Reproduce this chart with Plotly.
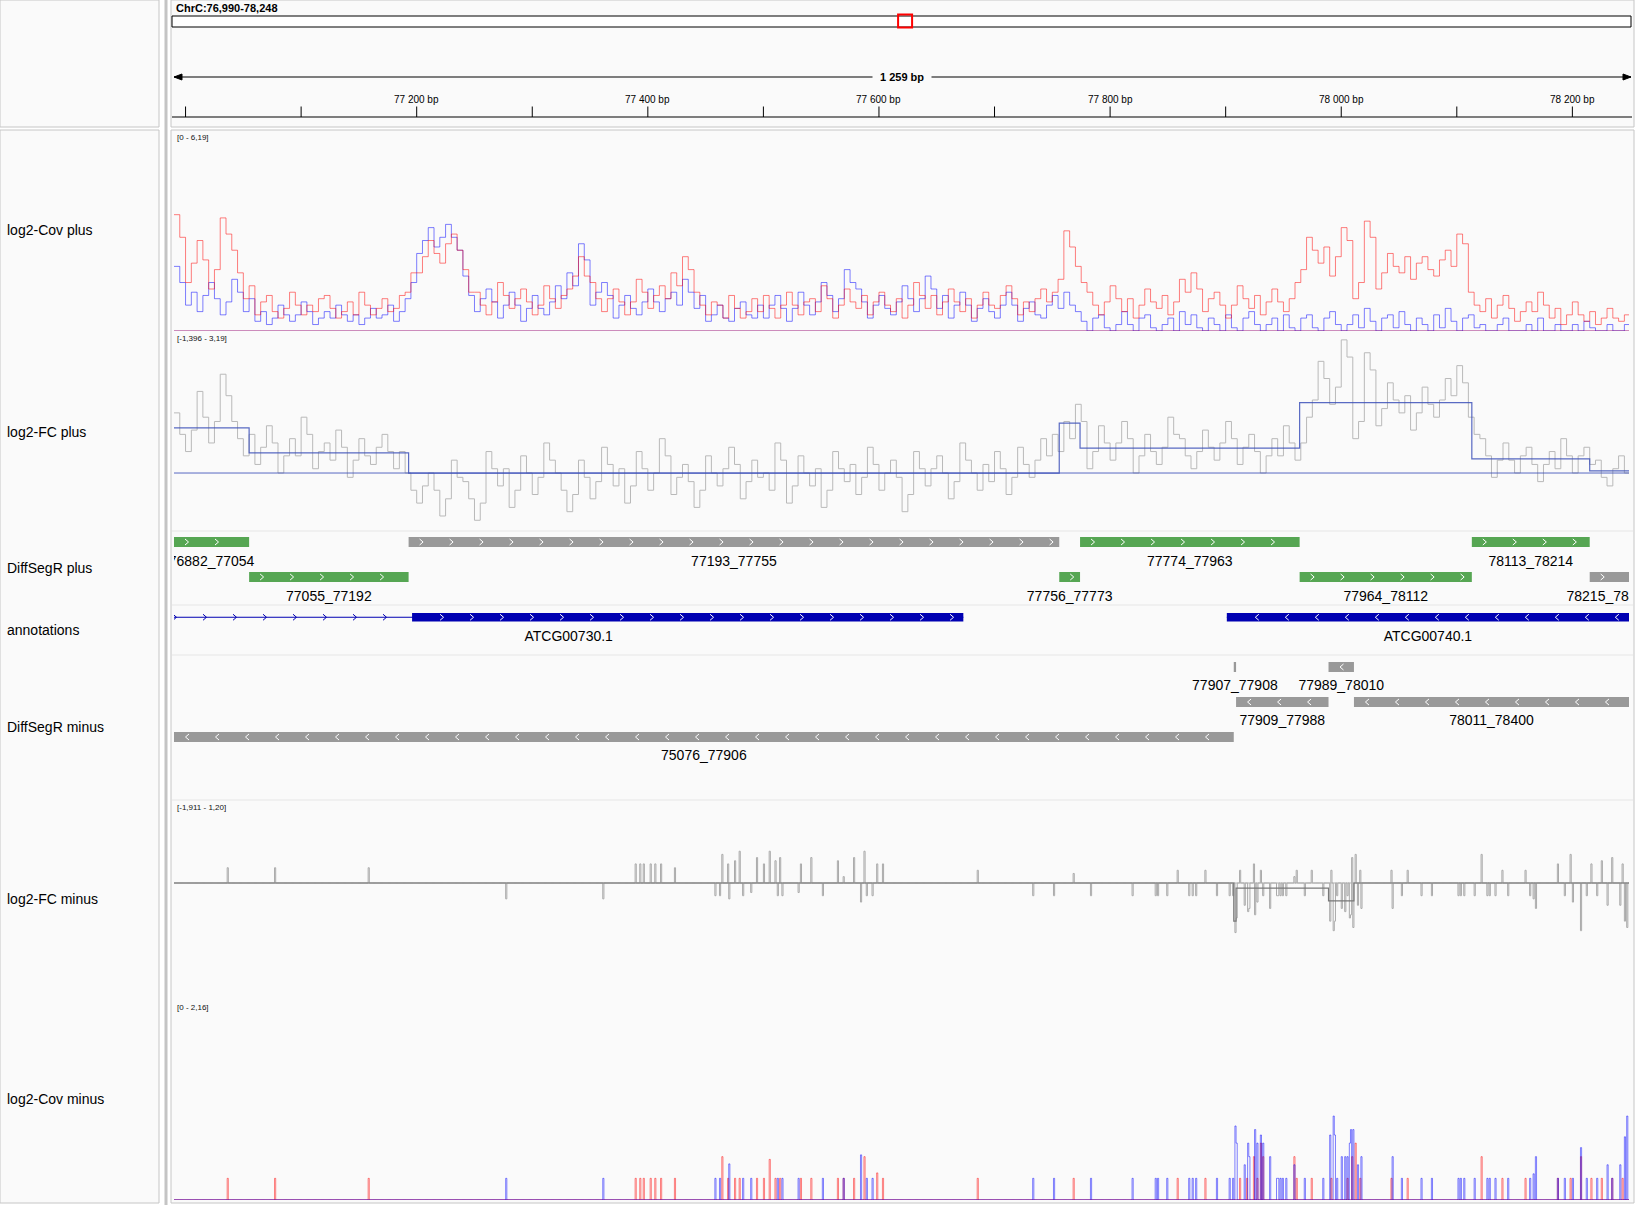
import numpy as np
import plotly.graph_objects as go

W, H = 1652, 1213
FONT = "Liberation Sans, Arial, Helvetica, sans-serif"

# ---------------- data ----------------
CHROM = "ChrC"
CHROM_LEN = 154478
VIEW_START = 76990
VIEW_END = 78248          # inclusive
X_END = VIEW_END + 1

RULER_MINOR = list(range(77000, 78249, 100))
RULER_MAJOR = [77200, 77400, 77600, 77800, 78000, 78200]

BIN = 5  # bp per value in the plus-strand signal lists
cov_plus_red = [
    3.6, 2.9, 1.5, 2.1, 2.8, 2.2, 1.3, 1.9, 3.5, 3.0, 2.5, 1.8, 1.0, 1.4,
    0.5, 0.9, 1.1, 0.6, 0.4, 0.7, 1.2, 0.8, 0.5, 0.8, 0.6, 1.0, 1.1, 0.7, 0.4, 0.6, 0.9, 0.5,
    1.2, 0.8, 0.5, 0.7, 1.0, 0.6, 0.7, 1.1, 1.2, 1.8,
    1.8, 2.3, 2.8, 2.4, 2.1, 2.7, 3.0, 2.5, 1.9, 1.2,
    1.2, 0.8, 0.5, 0.9, 1.5, 1.1, 0.7, 1.0, 1.3, 0.9, 0.5, 0.8, 1.4, 1.0, 0.7, 1.1, 1.3, 1.7,
    2.3, 1.7, 1.5, 1.0, 0.6, 1.0, 1.3, 0.9, 0.5, 0.9, 1.6, 1.2, 0.7, 1.1, 1.4, 1.0, 1.8, 1.4,
    2.3, 1.9, 1.2, 0.8, 0.5, 0.9, 0.8, 0.4, 1.1, 0.7, 0.4, 0.6, 1.0, 0.6,
    1.1, 0.7, 0.4, 0.8, 1.2, 0.8, 0.5, 0.9, 1.0, 0.6, 1.4, 1.0, 0.4, 0.8, 1.3, 0.9, 0.7, 1.1,
    0.5, 0.9, 1.2, 0.8, 0.6, 1.0, 0.4, 0.8, 1.5, 1.1, 0.7, 1.1, 0.5, 0.9, 1.3, 0.9, 0.6, 1.0,
    0.4, 0.8, 1.2, 0.8, 0.7, 1.1, 1.4, 1.0, 0.5, 0.9, 0.6, 1.0, 1.3, 0.9, 1.2, 1.6,
    3.1, 2.6, 2.0, 1.5, 1.2, 0.8, 0.5, 0.9, 1.4, 1.0, 0.6, 1.0, 0.4, 0.8, 1.3, 0.9, 0.7, 1.1,
    0.5, 0.9, 1.6, 1.2, 1.8, 1.3, 0.6, 1.0, 1.2, 0.8, 0.4, 0.8, 1.4, 1.0, 0.7, 1.1, 0.5, 0.9,
    1.3, 0.9, 0.6, 1.0, 1.5, 1.9,
    2.9, 2.5, 2.1, 2.6, 1.7, 2.3, 3.2, 2.8, 1.0, 1.5, 3.4, 2.9, 1.3, 1.8, 2.4, 2.0, 1.8, 2.3,
    1.6, 2.1, 2.3, 1.9, 1.7, 2.2, 2.5, 2.0, 3.0, 2.7, 1.2, 0.8, 0.6, 1.0,
    0.4, 0.8, 1.1, 0.7, 0.3, 0.6, 0.9, 0.6, 1.2, 0.8, 0.4, 0.7, 0.2, 0.5, 0.9, 0.5, 0.3, 0.6,
    0.2, 0.4, 0.7, 0.4, 0.3, 0.5]
cov_plus_blue = [
    2.0, 1.5, 0.8, 1.2, 0.6, 1.1, 1.5, 1.0, 0.5, 0.9, 1.6, 1.2, 0.6, 1.0,
    0.3, 0.6, 0.2, 0.4, 0.8, 0.5, 0.3, 0.5, 0.9, 0.6, 0.2, 0.4, 0.6, 0.4, 0.8, 0.5, 0.3, 0.5,
    0.2, 0.4, 0.7, 0.4, 0.5, 0.8, 0.3, 0.6, 1.0, 1.5,
    2.4, 2.8, 3.2, 2.6, 2.9, 3.3, 2.9, 2.5, 1.7, 1.1,
    0.6, 1.0, 1.3, 0.9, 0.4, 0.8, 1.2, 0.8, 0.3, 0.7, 1.1, 0.7, 0.5, 0.9, 1.4, 1.0, 1.8, 1.4,
    2.7, 2.2, 0.8, 1.2, 1.5, 1.1, 0.4, 0.8, 1.1, 0.7, 0.5, 0.9, 1.3, 0.9, 0.6, 1.0, 1.2, 0.8,
    1.6, 1.2, 0.7, 1.1, 0.3, 0.5, 0.8, 0.4, 0.3, 0.7, 0.9, 0.5, 0.4, 0.8,
    0.4, 0.8, 1.1, 0.7, 0.3, 0.7, 1.2, 0.8, 0.5, 0.9, 1.5, 1.1, 0.6, 1.0, 1.9, 1.5, 1.3, 0.9,
    0.4, 0.8, 1.1, 0.7, 0.5, 0.9, 1.4, 1.0, 0.6, 1.0, 1.7, 1.3, 0.7, 1.1, 0.4, 0.8, 1.2, 0.8,
    0.3, 0.7, 1.0, 0.6, 0.4, 0.8, 1.2, 0.8, 0.3, 0.7, 0.9, 0.5, 0.4, 0.8, 1.1, 0.7,
    1.2, 0.8, 0.6, 0.3, 0.0, 0.4, 0.5, 0.1, 0.0, 0.2, 0.6, 0.2, 0.0, 0.4, 0.5, 0.1, 0.0, 0.2,
    0.4, 0.0, 0.6, 0.2, 0.5, 0.1, 0.0, 0.4, 0.2, 0.0, 0.5, 0.1, 0.0, 0.4, 0.6, 0.2, 0.0, 0.2,
    0.4, 0.0, 0.5, 0.1, 0.0, 0.4,
    0.5, 0.1, 0.0, 0.4, 0.6, 0.2, 0.0, 0.2, 0.5, 0.1, 0.7, 0.3, 0.0, 0.4, 0.5, 0.1, 0.6, 0.2,
    0.0, 0.4, 0.2, 0.0, 0.5, 0.1, 0.7, 0.3, 0.0, 0.4, 0.5, 0.1, 0.2, 0.0,
    0.0, 0.2, 0.4, 0.0, 0.0, 0.0, 0.2, 0.0, 0.4, 0.0, 0.0, 0.2, 0.0, 0.0, 0.2, 0.0, 0.3, 0.1,
    0.0, 0.0, 0.2, 0.0, 0.0, 0.2]
fc_plus = [
    1.4, 0.9, 0.5, 1.0, 1.9, 1.3, 0.7, 1.2, 2.3, 1.8, 1.2, 0.8, 0.4, 0.9,
    0.2, 0.6, 1.1, 0.7, 0.0, 0.4, 0.8, 0.4, 1.3, 0.9, 0.1, 0.5, 0.7, 0.3, 1.0, 0.6, -0.1, 0.3,
    0.8, 0.4, 0.2, 0.6, 0.9, 0.5, 0.1, 0.5, 0.0, -0.4,
    -0.7, -0.3, 0.0, -0.4, -1.0, -0.6, 0.3, -0.1, -0.2, -0.6, -1.1, -0.7, 0.5, 0.1, -0.3, 0.1,
    -0.8, -0.4, 0.4, 0.0,
    -0.5, -0.1, 0.7, 0.3, 0.0, -0.4, -0.9, -0.5, 0.3, -0.1, -0.6, -0.2, 0.6, 0.2, -0.3, 0.1,
    -0.7, -0.3, 0.5, 0.1,
    -0.4, 0.0, 0.8, 0.4, -0.5, -0.1, 0.2, -0.2, -0.8, -0.4, 0.4, 0.0, -0.3, 0.1, 0.6, 0.2,
    -0.6, -0.2, 0.3, -0.1,
    0.0, -0.4, 0.7, 0.3, -0.7, -0.3, 0.4, 0.0, -0.3, 0.1, -0.8, -0.4, 0.5, 0.1, -0.2, 0.2,
    -0.5, -0.1, 0.6, 0.2,
    -0.4, 0.0, 0.3, -0.1, -0.9, -0.5, 0.5, 0.1, -0.3, 0.1, 0.4, 0.0, -0.6, -0.2, 0.7, 0.3,
    0.0, -0.4, 0.2, -0.2,
    0.5, 0.1, -0.5, -0.1, 0.6, 0.2, -0.1, 0.3, 0.8, 0.4, 0.9, 0.5,
    1.2, 0.8, 1.6, 1.2,
    0.1, 0.5, 1.1, 0.7, 0.3, 0.7, 1.2, 0.8, 0.0, 0.4, 0.9, 0.5, 0.2, 0.6, 1.3, 0.9, 0.8, 0.4,
    0.1, 0.5, 1.0, 0.6, 0.3, 0.7, 1.2, 0.8, 0.2, 0.6, 0.9, 0.5, 0.0, 0.4, 0.8, 0.4, 1.1, 0.7,
    0.3, 0.7,
    1.3, 1.7, 2.6, 2.2, 1.6, 2.0, 3.1, 2.7, 0.8, 1.2, 2.8, 2.4, 1.1, 1.5, 2.1, 1.7, 1.4, 1.8,
    1.0, 1.4, 2.0, 1.6, 1.3, 1.7, 2.2, 1.8, 2.5, 2.1, 1.3, 0.9,
    0.8, 0.4, -0.1, 0.3, 0.7, 0.3, 0.0, 0.4, 0.6, 0.2, -0.2, 0.2, 0.5, 0.1, 0.8, 0.4, 0.0, 0.4,
    0.6, 0.2,
    0.3, -0.1, -0.3, 0.1, 0.4, 0.0]

# minus-strand coverage spikes (bp position, log2 value)
cov_minus_red_pos = [77036, 77077, 77158, 77389, 77393, 77396, 77402, 77406, 77411, 77423,
                     77464, 77469, 77475, 77479, 77494, 77500, 77505, 77510, 77514, 77532,
                     77541, 77564, 77569, 77578, 77587, 77598, 77603, 77685, 77768, 77858,
                     77882, 77912, 77918, 77924, 77927, 77930, 77932, 77959, 77961, 77974,
                     77991, 78005, 78009, 78012, 78016, 78043, 78057, 78121, 78139, 78159,
                     78187, 78198, 78207, 78216, 78225, 78234, 78243]
cov_minus_red_val = [0.24, 0.24, 0.24, 0.24, 0.24, 0.24, 0.24, 0.24, 0.24, 0.24,
                     0.48, 0.24, 0.24, 0.24, 0.24, 0.24, 0.45, 0.24, 0.24, 0.24,
                     0.24, 0.24, 0.24, 0.24, 0.48, 0.30, 0.24, 0.24, 0.24, 0.24,
                     0.24, 0.24, 0.24, 0.48, 0.24, 0.63, 0.48, 0.48, 0.24, 0.24,
                     0.24, 0.24, 0.48, 0.63, 0.24, 0.24, 0.24, 0.48, 0.24, 0.24,
                     0.24, 0.24, 0.48, 0.24, 0.24, 0.24, 0.24]
cov_minus_blue_pos = [77277, 77361, 77458, 77462, 77470, 77482, 77489, 77512, 77516, 77530,
                      77551, 77569, 77584, 77589, 77594, 77733, 77751, 77783, 77819, 77839,
                      77841, 77849, 77868, 77871, 77874, 77892, 77903, 77906, 77908, 77909,
                      77916, 77919, 77920, 77925, 77927, 77930, 77932, 77938, 77944, 77945,
                      77947, 77949, 77952, 77959, 77968, 77984, 77990, 77993, 77994, 77996,
                      78000, 78003, 78005, 78007, 78008, 78010, 78014, 78017, 78044, 78052,
                      78069, 78078, 78101, 78103, 78106, 78115, 78126, 78128, 78133, 78144,
                      78163, 78166, 78168, 78187, 78193, 78200, 78207, 78212, 78221, 78230,
                      78234, 78241, 78245, 78247]
cov_minus_blue_val = [0.24, 0.24, 0.24, 0.24, 0.40, 0.24, 0.24, 0.24, 0.24, 0.24,
                      0.24, 0.24, 0.50, 0.24, 0.24, 0.24, 0.24, 0.24, 0.24, 0.24,
                      0.24, 0.24, 0.24, 0.24, 0.24, 0.24, 0.24, 0.24, 0.82, 0.63,
                      0.39, 0.63, 0.48, 0.78, 0.63, 0.72, 0.63, 0.48, 0.24, 0.24,
                      0.24, 0.24, 0.24, 0.39, 0.24, 0.24, 0.72, 0.93, 0.72, 0.24,
                      0.48, 0.48, 0.48, 0.63, 0.78, 0.78, 0.39, 0.48, 0.48, 0.24,
                      0.24, 0.24, 0.24, 0.24, 0.24, 0.24, 0.24, 0.24, 0.24, 0.24,
                      0.24, 0.29, 0.48, 0.24, 0.24, 0.24, 0.58, 0.24, 0.24, 0.39,
                      0.24, 0.39, 0.70, 0.93]
# minus-strand log2 fold change spikes
fc_minus_pos = [77036, 77077, 77158, 77277, 77361, 77389, 77393, 77396, 77402, 77406,
                77411, 77423, 77458, 77462, 77464, 77469, 77470, 77475, 77479, 77482,
                77489, 77494, 77500, 77505, 77510, 77512, 77514, 77516, 77530, 77532,
                77541, 77551, 77564, 77569, 77578, 77584, 77587, 77589, 77594, 77598,
                77603, 77685, 77733, 77751, 77768, 77783, 77819, 77839, 77841, 77849,
                77858, 77868, 77871, 77874, 77882, 77892, 77903, 77906, 77908, 77909,
                77912, 77916, 77919, 77920, 77924, 77925, 77927, 77930, 77932, 77938,
                77944, 77945, 77947, 77949, 77952, 77959, 77961, 77968, 77974, 77984,
                77990, 77991, 77993, 77994, 77996, 78000, 78003, 78005, 78007, 78008,
                78009, 78010, 78012, 78014, 78016, 78017, 78043, 78044, 78052, 78057,
                78069, 78078, 78101, 78103, 78106, 78115, 78121, 78126, 78128, 78133,
                78139, 78144, 78159, 78163, 78166, 78168, 78187, 78193, 78198, 78200,
                78207, 78212, 78216, 78221, 78225, 78230, 78234, 78241, 78243, 78245,
                78247]
fc_minus_val = [0.24, 0.24, 0.24, -0.25, -0.25, 0.30, 0.30, 0.30, 0.30, 0.30,
                0.30, 0.24, -0.20, -0.20, 0.45, 0.30, -0.25, 0.35, 0.50, -0.20,
                -0.15, 0.40, 0.30, 0.50, 0.35, -0.20, 0.40, -0.20, -0.15, 0.30,
                0.40, -0.20, 0.35, 0.10, 0.40, -0.30, 0.50, -0.20, -0.20, 0.30,
                0.30, 0.20, -0.20, -0.20, 0.15, -0.20, -0.20, -0.20, -0.20, -0.20,
                0.20, -0.20, -0.20, -0.20, 0.20, -0.20, -0.20, -0.20, -0.78, -0.55,
                0.20, -0.35, -0.45, -0.40, 0.30, -0.50, -0.30, 0.20, -0.20, -0.40,
                -0.20, -0.20, -0.20, -0.20, -0.20, 0.10, 0.20, -0.20, 0.20, -0.20,
                -0.60, 0.20, -0.75, -0.60, -0.20, -0.40, -0.45, -0.20, -0.55, -0.50,
                0.40, -0.70, 0.45, -0.35, 0.20, -0.40, 0.20, -0.40, -0.20, 0.20,
                -0.20, -0.20, -0.20, -0.20, -0.20, -0.20, 0.45, -0.20, -0.20, -0.20,
                0.20, -0.20, 0.20, -0.20, -0.25, -0.40, 0.30, -0.20, 0.45, -0.30,
                -0.75, -0.20, 0.30, -0.20, 0.35, -0.35, 0.40, -0.35, 0.30, -0.60,
                -0.70]

# DiffSegR segments
seg_plus_start = [76882, 77055, 77193, 77756, 77774, 77964, 78113, 78215]
seg_plus_end = [77054, 77192, 77755, 77773, 77963, 78112, 78214, 78400]
seg_plus_row = [0, 1, 0, 1, 0, 1, 0, 1]
seg_plus_diff = [True, True, False, True, True, True, True, False]
seg_plus_mean = [1.05, 0.47, 0.0, 1.16, 0.58, 1.64, 0.33, 0.05]

seg_minus_start = [75076, 77907, 77909, 77989, 78011]
seg_minus_end = [77906, 77908, 77988, 78010, 78400]
seg_minus_row = [2, 0, 1, 0, 1]
seg_minus_mean = [0.0, -0.60, -0.08, -0.28, 0.0]

# gene annotations
gene_names = ["ATCG00730.1", "ATCG00740.1"]
gene_strand = ["+", "-"]
gene_tx_start = [76500, 77901]
gene_tx_end = [77672, 78900]
gene_exon_start = [77196, 77901]
gene_exon_end = [77672, 78900]

track_names = ["log2-Cov plus", "log2-FC plus", "DiffSegR plus", "annotations",
               "DiffSegR minus", "log2-FC minus", "log2-Cov minus"]
data_ranges = ["[0 - 6,19]", "[-1,396 - 3,19]", "[-1,911 - 1,20]", "[0 - 2,16]"]
COV_PLUS_MAX = 6.19
FC_PLUS_RANGE = (-1.396, 3.19)
FC_MINUS_RANGE = (-1.911, 1.20)
COV_MINUS_MAX = 2.16

# ---------------- layout geometry (pixels) ----------------
PX_L, PX_R = 174.0, 1629.0
PXBP = (PX_R - PX_L) / (X_END - VIEW_START)
TRACK_NAME_Y = [230, 432, 568, 630, 727, 899, 1099]
RANGE_LABEL_Y = [137, 338, 807, 1007]
PLUS_ROW_TOP = [537, 572]
MINUS_ROW_TOP = [662, 697, 732]
FEAT_H = 10
PLUS_LABEL_Y = [562, 597]
MINUS_LABEL_Y = [686, 721, 756]
GENE_TOP, GENE_H, GENE_LABEL_Y = 613, 8.5, 637
SEPARATORS = [531, 605, 655, 800]

RED = "rgba(255,0,0,0.5)"
BLUE = "rgba(0,0,255,0.5)"
GRAY_SIG = "rgb(185,185,185)"
SEG_BLUE = "rgba(60,80,185,0.85)"
GREEN = "rgb(86,166,83)"
GRAYF = "rgb(153,153,153)"
GENE_BLUE = "rgb(0,0,178)"
PANEL = "#FAFAFA"
BORDER = "#C6C6C6"


def px2bp(px):
    return VIEW_START + (px - PX_L) / PXBP


def bp2px(bp):
    return PX_L + (bp - VIEW_START) * PXBP


def dom(top, bottom):
    return [1 - bottom / H, 1 - top / H]


def ppx(x):
    return x / W


def ppy(y):
    return 1 - y / H


fig = go.Figure()
shapes = []
annotations = []

# panels
for (x0, y0, x1, y1) in [(0, 0, 159, 127), (0, 130, 159, 1203),
                         (171, 0, 1634, 127), (171, 130, 1634, 1203)]:
    shapes.append(dict(type="rect", xref="paper", yref="paper", x0=ppx(x0), x1=ppx(x1),
                       y0=ppy(y1), y1=ppy(y0), fillcolor=PANEL,
                       line=dict(color=BORDER, width=1), layer="below"))
shapes.append(dict(type="rect", xref="paper", yref="paper", x0=ppx(164.5), x1=ppx(167.5),
                   y0=ppy(1205), y1=ppy(0), fillcolor="#C4C4C4", line=dict(width=0), layer="below"))
for sy in SEPARATORS:
    shapes.append(dict(type="line", xref="paper", yref="paper", x0=ppx(172), x1=ppx(1633),
                       y0=ppy(sy), y1=ppy(sy), line=dict(color="#E6E6E6", width=1), layer="below"))

# ---------------- header: locus, ideogram, span, ruler ----------------
annotations.append(dict(text="<b>%s:%s-%s</b>" % (CHROM, f"{VIEW_START:,}", f"{VIEW_END:,}"),
                        xref="paper", yref="paper", x=ppx(174), y=ppy(8.5),
                        xanchor="left", yanchor="middle", showarrow=False,
                        font=dict(family=FONT, size=11, color="#000")))
IDEO_L, IDEO_R = 172, 1631
shapes.append(dict(type="rect", xref="paper", yref="paper", x0=ppx(IDEO_L), x1=ppx(IDEO_R),
                   y0=ppy(27), y1=ppy(16), fillcolor="white", line=dict(color="#000", width=1)))
frac = ((VIEW_START + X_END) / 2) / CHROM_LEN
cx_ideo = IDEO_L + frac * (IDEO_R - IDEO_L)
shapes.append(dict(type="rect", xref="paper", yref="paper", x0=ppx(cx_ideo - 7), x1=ppx(cx_ideo + 7),
                   y0=ppy(27.5), y1=ppy(14.5), fillcolor="rgba(0,0,0,0)", line=dict(color="red", width=2)))

SPAN_Y = 77
shapes.append(dict(type="line", xref="paper", yref="paper", x0=ppx(PX_L), x1=ppx(PX_R + 2),
                   y0=ppy(SPAN_Y), y1=ppy(SPAN_Y), line=dict(color="#000", width=1)))
shapes.append(dict(type="path", xref="paper", yref="paper",
                   path="M %f %f L %f %f L %f %f Z" % (ppx(PX_L), ppy(SPAN_Y), ppx(PX_L + 8), ppy(SPAN_Y - 3),
                                                      ppx(PX_L + 8), ppy(SPAN_Y + 3)),
                   fillcolor="#000", line=dict(color="#000", width=1)))
shapes.append(dict(type="path", xref="paper", yref="paper",
                   path="M %f %f L %f %f L %f %f Z" % (ppx(PX_R + 2), ppy(SPAN_Y), ppx(PX_R - 6), ppy(SPAN_Y - 3),
                                                      ppx(PX_R - 6), ppy(SPAN_Y + 3)),
                   fillcolor="#000", line=dict(color="#000", width=1)))
span_bp = X_END - VIEW_START
annotations.append(dict(text="<b>%s bp</b>" % f"{span_bp:,}".replace(",", " "),
                        xref="x", yref="y3", x=(VIEW_START + X_END) / 2, y=SPAN_Y,
                        xanchor="center", yanchor="middle", showarrow=False,
                        bgcolor=PANEL, borderpad=7,
                        font=dict(family=FONT, size=11, color="#000")))

shapes.append(dict(type="line", xref="paper", yref="paper", x0=ppx(172), x1=ppx(1632),
                   y0=ppy(117), y1=ppy(117), line=dict(color="#000", width=1)))
for t in RULER_MINOR:
    shapes.append(dict(type="line", xref="x", yref="y3", x0=t, x1=t, y0=106.5, y1=117,
                       line=dict(color="#000", width=1)))
for t in RULER_MAJOR:
    annotations.append(dict(text=f"{t:,}".replace(",", " ") + " bp", xref="x", yref="y3",
                            x=t, y=99, xanchor="center", yanchor="middle", showarrow=False,
                            font=dict(family=FONT, size=10, color="#000")))

# ---------------- track names & data ranges ----------------
for name, y in zip(track_names, TRACK_NAME_Y):
    annotations.append(dict(text=name, xref="paper", yref="paper", x=ppx(5), y=ppy(y),
                            xanchor="left", yanchor="middle", showarrow=False,
                            font=dict(family=FONT, size=14, color="#000")))
for txt, y in zip(data_ranges, RANGE_LABEL_Y):
    annotations.append(dict(text=txt, xref="paper", yref="paper", x=ppx(175), y=ppy(y),
                            xanchor="left", yanchor="middle", showarrow=False,
                            font=dict(family=FONT, size=8, color="#111")))


# ---------------- signal tracks ----------------
def binned_xy(vals):
    xs = [VIEW_START + BIN * i for i in range(len(vals))] + [VIEW_START + BIN * len(vals)]
    ys = list(vals) + [vals[-1]]
    return xs, ys


def dense_xy(pos, val):
    arr = np.zeros(X_END - VIEW_START + 1)
    for p, v in zip(pos, val):
        if VIEW_START <= p < X_END:
            arr[p - VIEW_START] = v
    return np.arange(VIEW_START, X_END + 1), arr


def step(xs, ys, color, yaxis, width=1):
    fig.add_trace(go.Scatter(x=xs, y=ys, mode="lines", line=dict(color=color, width=width, shape="hv"),
                             xaxis="x", yaxis=yaxis, hoverinfo="skip", showlegend=False))


def hline(val, color, yaxis):
    fig.add_trace(go.Scatter(x=[VIEW_START, X_END], y=[val, val], mode="lines",
                             line=dict(color=color, width=1), xaxis="x", yaxis=yaxis,
                             hoverinfo="skip", showlegend=False))


def seg_line(starts, ends, means, color, yaxis):
    xs, ys = [], []
    for s, e, m in zip(starts, ends, means):
        xs += [s, e + 1]
        ys += [m, m]
    fig.add_trace(go.Scatter(x=xs, y=ys, mode="lines", line=dict(color=color, width=1.2),
                             xaxis="x", yaxis=yaxis, hoverinfo="skip", showlegend=False))


# log2-Cov plus
xb, yb = binned_xy(cov_plus_blue)
step(xb, yb, BLUE, "y")
xr, yr = binned_xy(cov_plus_red)
step(xr, yr, RED, "y")
hline(0, BLUE, "y")
hline(0, RED, "y")

# log2-FC plus
xf, yf = binned_xy(fc_plus)
step(xf, yf, GRAY_SIG, "y2")
hline(0, SEG_BLUE, "y2")
seg_line(seg_plus_start, seg_plus_end, seg_plus_mean, SEG_BLUE, "y2")

# log2-FC minus
xm, ym = dense_xy(fc_minus_pos, fc_minus_val)
step(xm, ym, "rgb(170,170,170)", "y4")
hline(0, "rgb(175,175,175)", "y4")
seg_line(seg_minus_start, seg_minus_end, seg_minus_mean, "rgb(120,120,120)", "y4")

# log2-Cov minus
xcr, ycr = dense_xy(cov_minus_red_pos, cov_minus_red_val)
step(xcr, ycr, RED, "y5")
xcb, ycb = dense_xy(cov_minus_blue_pos, cov_minus_blue_val)
step(xcb, ycb, BLUE, "y5")
hline(0, RED, "y5")
hline(0, BLUE, "y5")

# ---------------- feature tracks ----------------
chev_white_x, chev_white_y = [], []
chev_blue_x, chev_blue_y = [], []


def add_chevrons(x0bp, x1bp, yc, strand, first_off, xs_out, ys_out, half=3.0):
    p0, p1 = bp2px(x0bp), bp2px(x1bp)
    if p1 - p0 < 20:
        return
    c = p0 + first_off
    while c < p1 - 5:
        if strand == "+":
            pts = [(c - 2, yc - half), (c + 1.5, yc), (c - 2, yc + half)]
        else:
            pts = [(c + 2, yc - half), (c - 1.5, yc), (c + 2, yc + half)]
        for (px, py) in pts:
            xs_out.append(px2bp(px))
            ys_out.append(py)
        xs_out.append(None)
        ys_out.append(None)
        c += 30


lab_x, lab_y, lab_t = [], [], []


def add_feature(s, e, top, color, strand, label, label_y):
    x0 = max(s, VIEW_START)
    x1 = min(e + 1, X_END)
    shapes.append(dict(type="rect", xref="x", yref="y3", x0=x0, x1=x1, y0=top, y1=top + FEAT_H,
                       fillcolor=color, line=dict(width=0), layer="below"))
    add_chevrons(x0, x1, top + FEAT_H / 2, strand, 13, chev_white_x, chev_white_y)
    lab_x.append((x0 + x1) / 2)
    lab_y.append(label_y)
    lab_t.append(label)


for s, e, r, d in zip(seg_plus_start, seg_plus_end, seg_plus_row, seg_plus_diff):
    add_feature(s, e, PLUS_ROW_TOP[r], GREEN if d else GRAYF, "+", f"{s}_{e}", PLUS_LABEL_Y[r])
for s, e, r in zip(seg_minus_start, seg_minus_end, seg_minus_row):
    add_feature(s, e, MINUS_ROW_TOP[r], GRAYF, "-", f"{s}_{e}", MINUS_LABEL_Y[r])

for name, st, ts, te, es, ee in zip(gene_names, gene_strand, gene_tx_start, gene_tx_end,
                                    gene_exon_start, gene_exon_end):
    yc = GENE_TOP + GENE_H / 2
    t0, t1 = max(ts, VIEW_START), min(te + 1, X_END)
    shapes.append(dict(type="line", xref="x", yref="y3", x0=t0, x1=t1, y0=yc, y1=yc,
                       line=dict(color=GENE_BLUE, width=1), layer="below"))
    e0, e1 = max(es, VIEW_START), min(ee + 1, X_END)
    if t0 < e0:
        add_chevrons(t0, e0, yc, st, 1, chev_blue_x, chev_blue_y, half=3.0)
    shapes.append(dict(type="rect", xref="x", yref="y3", x0=e0, x1=e1, y0=GENE_TOP,
                       y1=GENE_TOP + GENE_H, fillcolor=GENE_BLUE, line=dict(width=0), layer="below"))
    add_chevrons(e0, e1, yc, st, 30, chev_white_x, chev_white_y, half=3.0)
    lab_x.append((t0 + t1) / 2)
    lab_y.append(GENE_LABEL_Y)
    lab_t.append(name)

fig.add_trace(go.Scatter(x=chev_blue_x, y=chev_blue_y, mode="lines",
                         line=dict(color=GENE_BLUE, width=1), xaxis="x", yaxis="y3",
                         hoverinfo="skip", showlegend=False))
fig.add_trace(go.Scatter(x=chev_white_x, y=chev_white_y, mode="lines",
                         line=dict(color="white", width=1), xaxis="x", yaxis="y3",
                         hoverinfo="skip", showlegend=False))
fig.add_trace(go.Scatter(x=lab_x, y=lab_y, text=lab_t, mode="text", textposition="middle center",
                         textfont=dict(family=FONT, size=14, color="#000"), cliponaxis=True,
                         xaxis="x", yaxis="y3", hoverinfo="skip", showlegend=False))

ax = dict(visible=False, fixedrange=True)
fig.update_layout(
    width=W, height=H, autosize=False,
    margin=dict(l=0, r=0, t=0, b=0, pad=0),
    paper_bgcolor="white", plot_bgcolor="rgba(0,0,0,0)",
    showlegend=False,
    xaxis=dict(domain=[PX_L / W, PX_R / W], range=[VIEW_START, X_END], anchor="y3", **ax),
    yaxis=dict(domain=dom(131, 331), range=[0, COV_PLUS_MAX], anchor="x", **ax),
    yaxis2=dict(domain=dom(336, 533), range=list(FC_PLUS_RANGE), anchor="x", **ax),
    yaxis3=dict(domain=[0, 1], range=[H, 0], anchor="x", **ax),
    yaxis4=dict(domain=dom(806.7, 1004.5), range=list(FC_MINUS_RANGE), anchor="x", **ax),
    yaxis5=dict(domain=dom(1005, 1200), range=[0, COV_MINUS_MAX], anchor="x", **ax),
    shapes=shapes,
    annotations=annotations,
)

fig.write_html("out.html", config={"displayModeBar": False},
               post_script="document.body.style.margin='0';document.body.style.overflow='hidden';")
